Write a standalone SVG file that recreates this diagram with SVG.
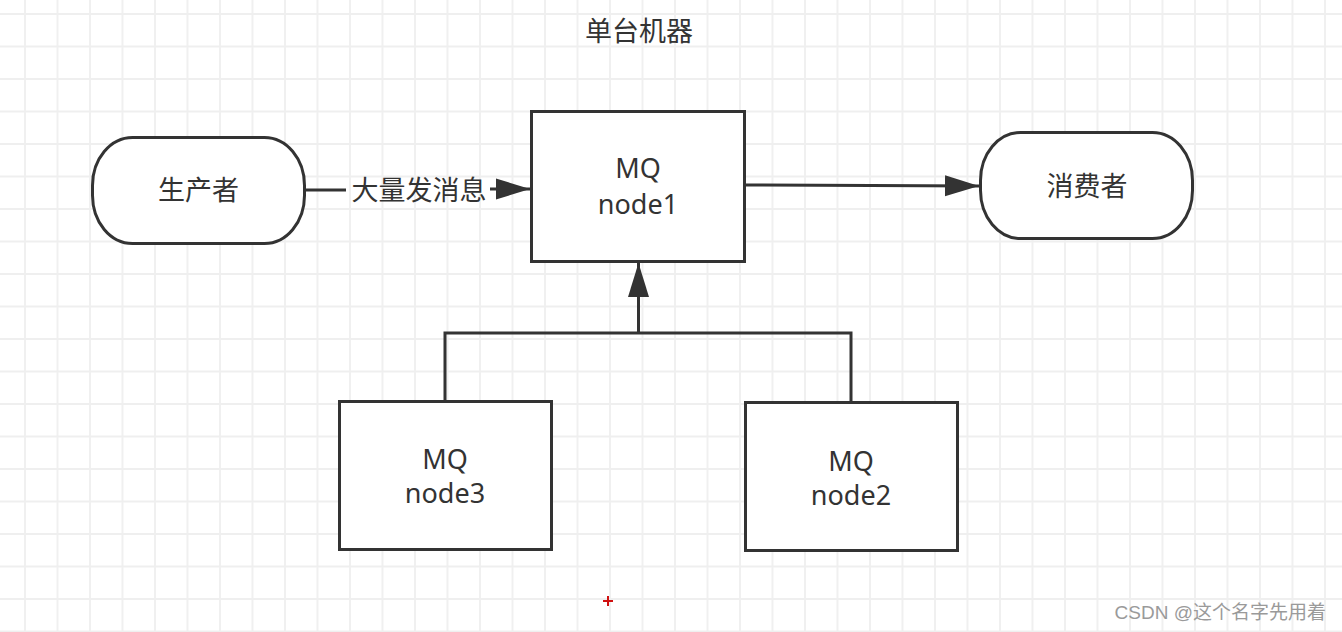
<svg xmlns="http://www.w3.org/2000/svg" width="1342" height="632" viewBox="0 0 1342 632">
  <defs>
    <pattern id="grid" patternUnits="userSpaceOnUse" x="24" y="13" width="32.5" height="32.5">
      <path d="M1 0 V32.5 M0 1 H32.5" fill="none" stroke="#efefef" stroke-width="1.8"/>
    </pattern>
    <marker id="arrow" markerUnits="userSpaceOnUse" markerWidth="36" markerHeight="26" refX="34" refY="13" orient="auto">
      <path d="M0,2.5 L34,13 L0,23.5 Z" fill="#333"/>
    </marker>
  </defs>
  <style>
    .shape { fill: #fff; stroke: #333; stroke-width: 3; }
    .conn { fill: none; stroke: #333; stroke-width: 3; }
    .lbl { font-family: "Noto Sans", "Noto Sans CJK SC", sans-serif; font-size: 27px; fill: #333; text-anchor: middle; }
    .cjk { font-family: "Noto Sans CJK SC", "Noto Sans", sans-serif; font-size: 27px; fill: #333; text-anchor: middle; }
  </style>
  <rect width="1342" height="632" fill="#fff"/>
  <rect width="1342" height="632" fill="url(#grid)"/>

  <text id="title" class="cjk" x="639" y="41" font-size="26">单台机器</text>

  <g id="connectors">
    <line class="conn" x1="305" y1="190" x2="346" y2="190"/>
    <line class="conn" x1="490" y1="189" x2="530" y2="189" marker-end="url(#arrow)"/>
    <line class="conn" x1="745" y1="185" x2="979" y2="186" marker-end="url(#arrow)"/>
    <path class="conn" d="M445,401 V333 H851 V402"/>
    <line class="conn" x1="638.5" y1="333" x2="638.5" y2="263" marker-end="url(#arrow)"/>
  </g>
  <text id="edge-label" class="cjk" x="419" y="200" font-size="28.5">大量发消息</text>

  <g id="producer">
    <rect class="shape" x="92.5" y="137.5" width="212" height="106" rx="40" ry="48"/>
    <text class="cjk" x="198.5" y="200">生产者</text>
  </g>

  <g id="node1">
    <rect class="shape" x="531.5" y="111.5" width="213" height="150"/>
    <text class="lbl" x="638" y="178">MQ</text>
    <text class="lbl" x="638" y="214">node1</text>
  </g>

  <g id="consumer">
    <rect class="shape" x="980.5" y="132.5" width="212" height="106" rx="40" ry="48"/>
    <text class="cjk" x="1087" y="196">消费者</text>
  </g>

  <g id="node3">
    <rect class="shape" x="339.5" y="401.5" width="212" height="148"/>
    <text class="lbl" x="445" y="469">MQ</text>
    <text class="lbl" x="445" y="503">node3</text>
  </g>

  <g id="node2">
    <rect class="shape" x="745.5" y="402.5" width="212" height="148"/>
    <text class="lbl" x="851" y="471">MQ</text>
    <text class="lbl" x="851" y="505">node2</text>
  </g>

  <path d="M603,601 H613 M608,596 V606" stroke="#d01010" stroke-width="2"/>
  <text x="1326" y="619" font-family="Liberation Sans, Noto Sans CJK SC, sans-serif" font-size="19" fill="#9a9a9a" text-anchor="end">CSDN @这个名字先用着</text>
</svg>
